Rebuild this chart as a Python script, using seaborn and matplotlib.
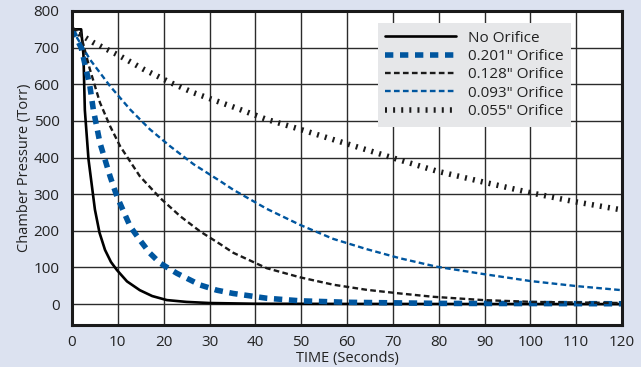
import matplotlib
matplotlib.use('Agg')
import matplotlib.pyplot as plt
import seaborn as sns

# values (time in seconds, pressure in Torr)
t_none = [0, 2, 2.5, 2.8, 3.6, 5.0, 6.0, 7.2, 8.5, 9.8, 12, 14.8, 17.5, 20.7, 25, 30, 40, 60, 120]
p_none = [750, 750, 680, 530, 395, 258, 195, 148, 115, 93, 62, 38, 22, 11, 6, 3, 1, 0.5, 0]

t_201 = [0, 2, 3.9, 4.65, 6.1, 8.3, 9.8, 12.7, 14.8, 17, 19.2, 22.9, 28, 31.6, 35.2, 42.5, 49.8, 60, 80, 120]
p_201 = [750, 700, 595, 531, 440, 349, 294, 212, 175, 139, 112, 84, 52, 38, 29, 16, 9, 5, 2, 1]

t_128 = [0, 1.7, 3.9, 6.1, 8.3, 10.5, 14.8, 19.2, 23.6, 28, 32.3, 35.2, 42.5, 49.8, 57, 64.3, 71.6, 78.8, 89.7, 100.6, 120]
p_128 = [750, 746, 641, 550, 486, 431, 349, 290, 240, 198, 164, 140, 98, 73, 53, 39, 29, 20, 11, 6, 3]

t_093 = [0, 3.9, 8.3, 12.7, 17, 21.4, 26.5, 32.3, 35.2, 42.5, 49.8, 57, 64.3, 71.6, 79.6, 89.8, 100, 110.2, 120]
p_093 = [750, 668, 595, 531, 477, 431, 382, 336, 312, 260, 216, 178, 150, 125, 102, 82, 63, 49, 38]

t_055 = [0, 4.65, 10.5, 15.6, 21.4, 26.5, 31.6, 35.2, 42.5, 49.8, 57, 64.3, 71.6, 79.6, 89.8, 100, 109.5, 120]
p_055 = [750, 714, 677, 641, 605, 577, 554, 538, 504, 477, 449, 421, 393, 363, 333, 304, 280, 257]

labels = ['No Orifice', '0.201" Orifice', '0.128" Orifice', '0.093" Orifice', '0.055" Orifice']

bg = '#dce2f0'
blue = '#00569f'

sns.set_style('white')
plt.rcParams['font.family'] = ['Open Sans', 'DejaVu Sans']

fig = plt.figure(figsize=(6.41, 3.67), dpi=100, facecolor=bg)
ax = fig.add_axes([72 / 641, 1 - 325 / 367, 550 / 641, 314 / 367])
ax.set_facecolor('white')

series = [
    (t_none, p_none, 'black', 1.9, '-'),
    (t_201, p_201, blue, 4.0, (0, (1.5, 1.2))),
    (t_128, p_128, '#1a1a1a', 1.7, (0, (2.4, 1.4))),
    (t_093, p_093, blue, 1.7, (0, (2.4, 1.4))),
    (t_055, p_055, '#1a1a1a', 4.0, (0, (0.36, 1.1))),
]
for (t, p, c, lw, ls), lab in zip(series, labels):
    sns.lineplot(x=t, y=p, ax=ax, color=c, linewidth=lw, linestyle=ls, label=lab)

ax.set_xlim(0, 120)
ax.set_ylim(-57, 800)
ax.set_xticks(range(0, 121, 10))
ax.set_yticks(range(0, 801, 100))
ax.grid(True, color='#2b2b2b', linewidth=1.0)
ax.set_axisbelow(True)
for s in ax.spines.values():
    s.set_linewidth(2.2)
    s.set_color('#1a1a1a')
ax.tick_params(length=0, labelsize=11, colors='#222222')
ax.tick_params(axis='y', pad=9)
ax.tick_params(axis='x', pad=7)

ax.set_xlabel('TIME (Seconds)', fontsize=10.5, color='#222222', labelpad=1)
ax.set_ylabel('Chamber Pressure (Torr)', fontsize=10.5, color='#222222', labelpad=1)

leg = ax.legend(loc='upper left', bbox_to_anchor=(0.556, 0.962), borderaxespad=0,
                fontsize=11, frameon=True, fancybox=False, handlelength=4.6,
                labelspacing=0.22, borderpad=0.5, handletextpad=0.8)
leg.get_frame().set_facecolor('#e6e7e9')
leg.get_frame().set_edgecolor('none')
leg.get_frame().set_alpha(1)
for txt in leg.get_texts():
    txt.set_color('#222222')

fig.savefig('out.png', dpi=100, facecolor=bg)
